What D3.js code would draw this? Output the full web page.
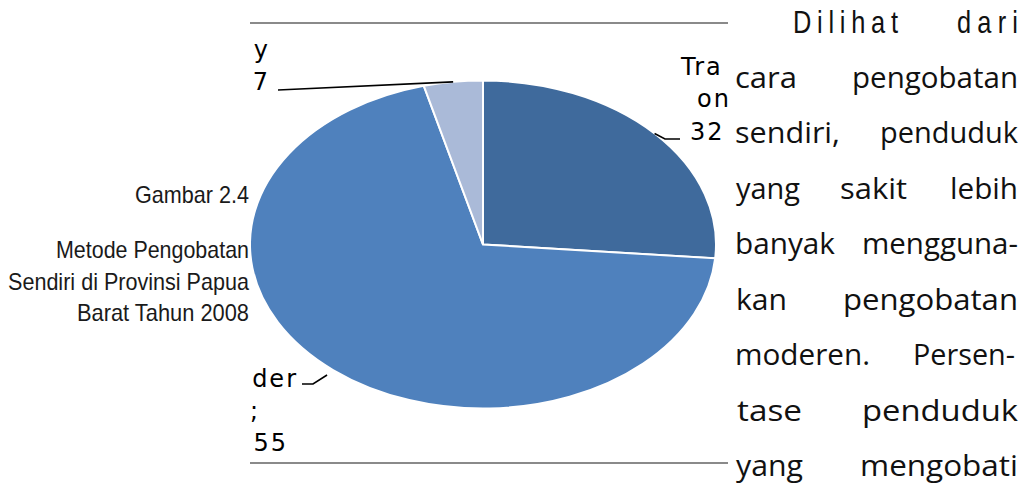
<!DOCTYPE html>
<html>
<head>
<meta charset="utf-8">
<script src="https://cdn.jsdelivr.net/npm/d3@7"></script>
<style>
  html, body { margin: 0; padding: 0; background: #ffffff; }
  svg { display: block; }
</style>
</head>
<body>
<svg id="page" width="1031" height="485"></svg>
<script>
// Self-medication method, Papua Barat 2008 (percent of sick population)
const categories  = ["Tradisional", "Moderen", "Lainnya"];
const values      = [32.02, 84.55, 4.97];
const valueLabels = ["32,02", "84,55", "4,97"];

const captionLines = ["Gambar 2.4", "Metode Pengobatan", "Sendiri di Provinsi Papua", "Barat Tahun 2008"];

const bodyLines = [
  ["Dilihat", "dari"],
  ["cara", "pengobatan"],
  ["sendiri,", "penduduk"],
  ["yang", "sakit", "lebih"],
  ["banyak", "mengguna-"],
  ["kan", "pengobatan"],
  ["moderen.", "Persen-"],
  ["tase", "penduduk"],
  ["yang", "mengobati"]
];

const svg = d3.select("#page");

// ---- layout ----
const frame = { x0: 251, x1: 728, top: 23, bottom: 463 };
const pieBox = { cx: 483, cy: 244.5, rx: 233, ry: 164 };
const palette = d3.scaleOrdinal().domain(categories).range(["#3F6A9C", "#4F81BD", "#AABAD8"]);

const defs = svg.append("defs");
// clip region of the figure frame
defs.append("clipPath").attr("id", "frameClip")
  .append("rect")
  .attr("x", frame.x0).attr("y", 0)
  .attr("width", frame.x1 - frame.x0).attr("height", 485);

// frame rules
svg.selectAll("line.rule").data([frame.top, frame.bottom]).join("line")
  .attr("class", "rule")
  .attr("x1", frame.x0 - 1).attr("x2", frame.x1)
  .attr("y1", d => d).attr("y2", d => d)
  .attr("stroke", "#8a8a8a").attr("stroke-width", 2);

const chart = svg.append("g").attr("clip-path", "url(#frameClip)");

// ---- pie (flattened to an ellipse) ----
const data = categories.map((c, i) => ({ name: c, value: values[i], label: valueLabels[i] }));
const pie = d3.pie().sort(null).value(d => d.value);
const arcs = pie(data);
const arc = d3.arc().innerRadius(0).outerRadius(pieBox.ry);

chart.append("g")
  .attr("transform", `translate(${pieBox.cx},${pieBox.cy}) scale(${pieBox.rx / pieBox.ry},1)`)
  .selectAll("path").data(arcs).join("path")
  .attr("d", arc)
  .attr("fill", d => palette(d.data.name))
  .attr("stroke", "#ffffff")
  .attr("stroke-width", 2)
  .attr("vector-effect", "non-scaling-stroke");

// point on the ellipse rim at a slice's mid angle
function rimPoint(d, k) {
  const a = (d.startAngle + d.endAngle) / 2;
  return [pieBox.cx + pieBox.rx * k * Math.sin(a), pieBox.cy - pieBox.ry * k * Math.cos(a)];
}

// ---- data labels with leader lines ----
// labels on the right run under the text column: `shown` is how many
// leading characters of each line stay visible before the column edge
const labelLayout = {
  "Tradisional": {
    anchor: "start",
    lines: d => [d.name.slice(0, 7), d.name.slice(7) + ";", d.label],
    xs: [681, 697, 690], ys: [75, 107, 140], shown: [3, 2, 2],
    rim: 1.0, leader: [[665, 139], [680, 139]]
  },
  "Moderen": {
    anchor: "end",
    lines: d => [d.name.slice(0, 5), d.name.slice(5) + ";", d.label],
    xs: [296, 258, 286], ys: [387, 419, 451],
    rim: 1.04, leader: [[313, 384], [302, 384]]
  },
  "Lainnya": {
    anchor: "end",
    lines: d => [d.name.slice(0, 6), d.name.slice(6) + "; " + d.label],
    xs: [268, 268], ys: [58, 90],
    rim: 1.0, leader: [[278, 90]]
  }
};

const labelSpacing = 2;
const lineGen = d3.line();
const labels = svg.append("g").attr("clip-path", "url(#frameClip)");
let clipId = 0;
arcs.forEach(d => {
  const L = labelLayout[d.data.name];
  const pts = [rimPoint(d, L.rim), ...L.leader];
  chart.append("path")
    .attr("d", lineGen(pts))
    .attr("fill", "none")
    .attr("stroke", "#000000")
    .attr("stroke-width", 1.6);

  const t = labels.append("g")
    .attr("font-family", "'DejaVu Sans', Verdana, sans-serif")
    .attr("font-size", 24)
    .attr("letter-spacing", labelSpacing)
    .attr("fill", "#000000");
  L.lines(d.data).forEach((s, i) => {
    const txt = t.append("text")
      .attr("x", L.xs[i] + (L.anchor === "end" ? labelSpacing : 0))
      .attr("y", L.ys[i])
      .attr("text-anchor", L.anchor)
      .text(s);
    if (L.shown && L.shown[i] < s.length) {
      // hide the part of the line that passes under the text column
      const cut = txt.node().getStartPositionOfChar(L.shown[i]).x - 0.5;
      const id = "lblClip" + (clipId++);
      defs.append("clipPath").attr("id", id)
        .append("rect")
        .attr("x", frame.x0).attr("y", 0)
        .attr("width", Math.min(cut, frame.x1) - frame.x0).attr("height", 485);
      txt.attr("clip-path", `url(#${id})`);
    }
  });
});

// ---- figure caption (right aligned, left of the chart) ----
const captionLayout = { x: 249, ys: [203, 258, 290, 321], widths: [114, 193, 241, 172] };
svg.append("g")
  .attr("font-family", "'Liberation Sans Narrow', 'Arial Narrow', 'Liberation Sans', sans-serif")
  .attr("font-size", 24)
  .attr("fill", "#1a1a1a")
  .selectAll("text").data(captionLines).join("text")
  .attr("x", (d, i) => captionLayout.x - captionLayout.widths[i])
  .attr("y", (d, i) => captionLayout.ys[i])
  .attr("textLength", (d, i) => captionLayout.widths[i])
  .attr("lengthAdjust", "spacingAndGlyphs")
  .text(d => d);

// ---- justified body text column ----
const bodyBaselines = [32, 88, 143, 199, 254, 310, 365, 421, 476];
const wordSpans = [
  [[793, 898], [957, 1018]],
  [[735, 797], [852, 1018]],
  [[735, 840], [880, 1018]],
  [[736, 800], [840, 907], [950, 1018]],
  [[735, 835], [862, 1018]],
  [[736, 787], [843, 1018]],
  [[735, 870], [913, 1015]],
  [[737, 802], [862, 1018]],
  [[736, 803], [860, 1018]]
];

// the opening line is set in a condensed, letter-spaced face
const condense = 0.82;
const body = svg.append("g").attr("fill", "#111111");
bodyLines.forEach((words, li) => {
  const lead = li === 0;
  words.forEach((w, wi) => {
    const span = wordSpans[li][wi];
    const t = body.append("text")
      .attr("font-family", lead ? "'Liberation Sans', Arial, sans-serif" : "'Open Sans', 'Noto Sans', sans-serif")
      .attr("font-size", lead ? 31 : 29)
      .text(w);
    if (lead) {
      t.attr("transform", `scale(${condense},1)`)
        .attr("x", span[0] / condense)
        .attr("y", bodyBaselines[li] + 1)
        .attr("textLength", (span[1] - span[0]) / condense)
        .attr("lengthAdjust", "spacing");
    } else {
      t.attr("x", span[0])
        .attr("y", bodyBaselines[li])
        .attr("textLength", span[1] - span[0])
        .attr("lengthAdjust", "spacingAndGlyphs");
    }
  });
});
</script>
</body>
</html>
